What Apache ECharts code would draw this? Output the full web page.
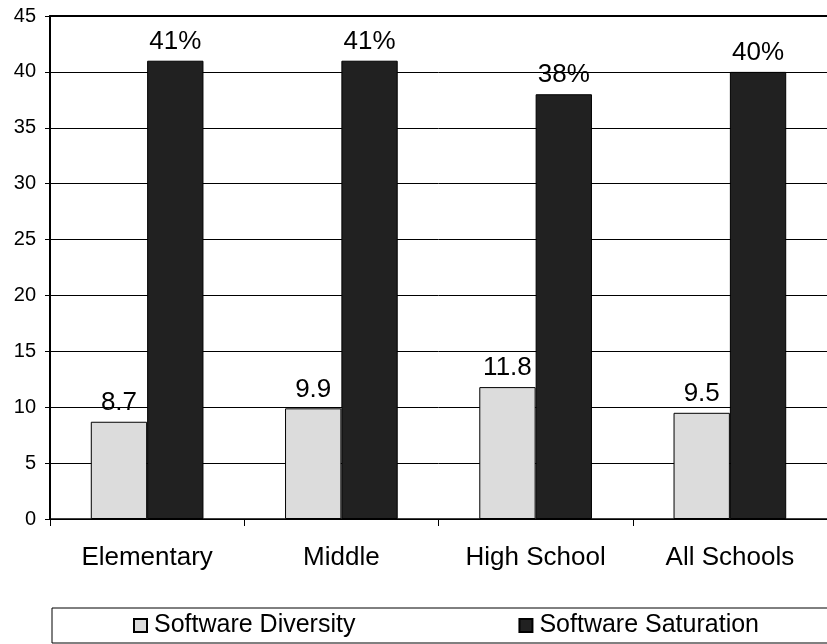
<!DOCTYPE html>
<html>
<head>
<meta charset="utf-8">
<script src="https://cdn.jsdelivr.net/npm/echarts@6/dist/echarts.min.js"></script>
<style>
html,body{margin:0;padding:0;background:#fff;}
#chart{width:827px;height:644px;}
</style>
</head>
<body>
<div id="chart"></div>
<script>
var categories = ['Elementary', 'Middle', 'High School', 'All Schools'];
var diversity = [8.7, 9.9, 11.8, 9.5];
var saturation = [41, 41, 38, 40];
var seriesNames = ['Software Diversity', 'Software Saturation'];

var FONT = '"Liberation Sans", Arial, sans-serif';
var chart = echarts.init(document.getElementById('chart'), null, {renderer: 'canvas'});
chart.setOption({
  animation: false,
  backgroundColor: '#fff',
  textStyle: {fontFamily: FONT, color: '#000'},
  grid: {left: 50, right: 0, top: 16, bottom: 125, containLabel: false},
  legend: {
    data: seriesNames,
    left: 52,
    top: 608,
    width: 700,
    orient: 'horizontal',
    borderColor: '#000',
    borderWidth: 1,
    padding: [5, 75, 5, 81],
    itemWidth: 13,
    itemHeight: 13,
    itemGap: 163,
    icon: 'rect',
    textStyle: {fontFamily: FONT, fontSize: 25, color: '#000', lineHeight: 25, padding: [0, 0, 0, 2]}
  },
  xAxis: [{
    type: 'category',
    data: categories,
    axisLine: {lineStyle: {color: '#000', width: 1.5}},
    axisTick: {show: true, length: 7, alignWithLabel: false, lineStyle: {color: '#000'}},
    axisLabel: {fontFamily: FONT, fontSize: 26, color: '#000', margin: 26}
  }, {
    type: 'category',
    data: categories,
    position: 'top',
    axisLine: {show: true, lineStyle: {color: '#000', width: 2}},
    axisTick: {show: false},
    axisLabel: {show: false}
  }],
  yAxis: {
    type: 'value',
    min: 0,
    max: 45,
    interval: 5,
    axisLine: {show: true, lineStyle: {color: '#000', width: 2}},
    axisTick: {show: true, length: 5, lineStyle: {color: '#000'}},
    axisLabel: {fontFamily: FONT, fontSize: 20, color: '#000', margin: 14},
    splitLine: {show: true, lineStyle: {color: '#000', width: 1}}
  },
  series: [{
    name: seriesNames[0],
    type: 'bar',
    data: diversity,
    barGap: '0%',
    barCategoryGap: '42%',
    itemStyle: {color: '#dcdcdc', borderColor: '#000', borderWidth: 1},
    label: {show: true, position: 'top', distance: 6, fontFamily: FONT, fontSize: 26, color: '#000'}
  }, {
    name: seriesNames[1],
    type: 'bar',
    data: saturation,
    barGap: '0%',
    barCategoryGap: '42%',
    itemStyle: {color: '#212121', borderColor: '#000', borderWidth: 1},
    label: {show: true, position: 'top', distance: 6, fontFamily: FONT, fontSize: 26, color: '#000', formatter: '{c}%'}
  }]
});
</script>
</body>
</html>
